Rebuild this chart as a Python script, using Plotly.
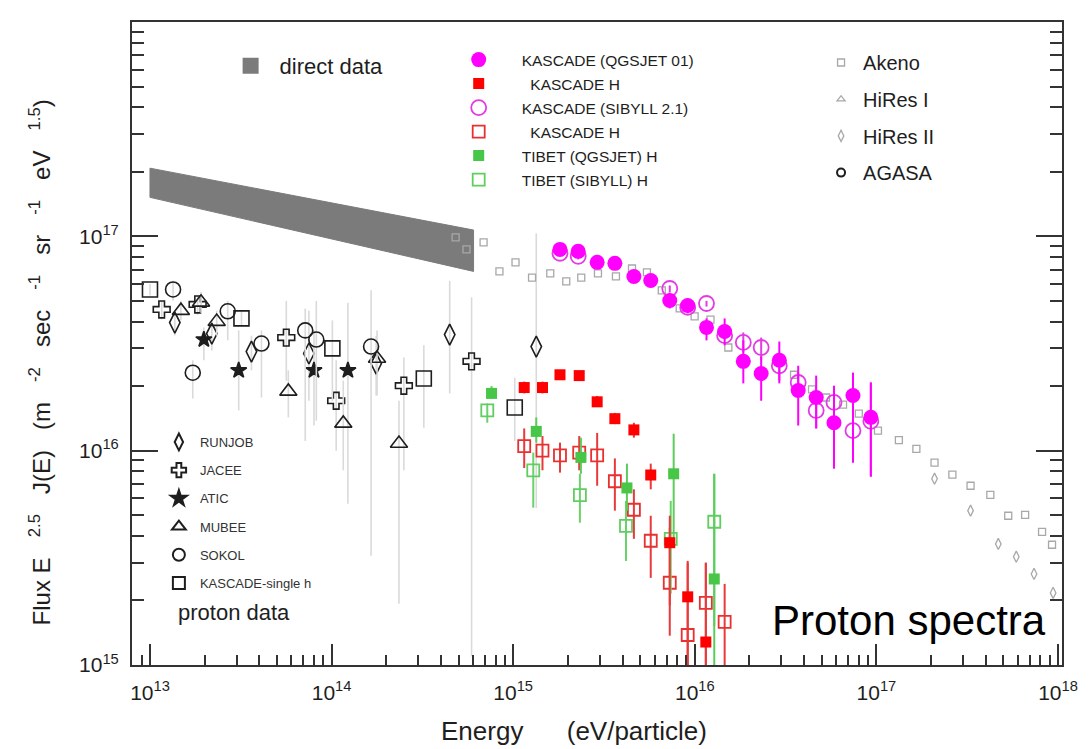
import plotly.graph_objects as go

# ---------------- data ----------------
# direct data band (corners)
band_E = [1.0e13, 6.05e14, 6.05e14, 1.0e13, 1.0e13]
band_F = [2.08e17, 1.07e17, 6.86e16, 1.52e17, 2.08e17]

runjob_E = [1.37e13, 2.19e13, 3.62e13, 7.5e13, 1.76e14, 4.47e14, 1.34e15]
runjob_F = [3.96e16, 3.52e16, 2.90e16, 2.84e16, 2.55e16, 3.48e16, 3.06e16]
runjob_hi = [4.4e16, 4.05e16, 3.44e16, 4.5e16, 3.44e16, 6.2e16, 1.03e17]
runjob_lo = [3.45e16, 2.93e16, 2.37e16, 1.71e16, 1.81e16, 1.85e16, 5.4e15]

jacee_E = [1.16e13, 1.83e13, 5.63e13, 1.06e14, 2.50e14, 5.9e14]
jacee_F = [4.56e16, 4.81e16, 3.37e16, 1.71e16, 2.01e16, 2.61e16]
jacee_hi = [5.0e16, 5.3e16, 5.0e16, 2.64e16, 2.72e16, 5.2e16]
jacee_lo = [4.1e16, 4.3e16, 2.12e16, 1.0e16, 8.1e15, 1.1e15]

atic_E = [1.98e13, 3.08e13, 8.0e13, 1.23e14]
atic_F = [3.30e16, 2.37e16, 2.37e16, 2.37e16]
atic_hi = [3.76e16, 3.64e16, 3.64e16, 4.9e16]
atic_lo = [2.64e16, 1.54e16, 1.31e16, 5.65e15]

mubee_E = [1.48e13, 1.91e13, 2.33e13, 5.78e13, 1.16e14, 1.78e14, 2.35e14]
mubee_F = [4.5e16, 4.92e16, 4.0e16, 1.89e16, 1.34e16, 2.69e16, 1.08e16]
mubee_hi = [5.0e16, 5.5e16, 4.5e16, 2.37e16, 2.12e16, 3.64e16, 1.71e16]
mubee_lo = [4.05e16, 4.4e16, 3.44e16, 1.43e16, 8.1e15, 1.81e16, 1.93e15]

sokol_E = [1.34e13, 1.72e13, 2.68e13, 4.11e13, 7.16e13, 8.24e13, 1.65e14]
sokol_F = [5.65e16, 2.31e16, 4.47e16, 3.16e16, 3.64e16, 3.30e16, 3.06e16]
sokol_hi = [6.2e16, 2.64e16, 5.0e16, 3.64e16, 4.6e16, 5.0e16, 5.6e16]
sokol_lo = [5.0e16, 1.75e16, 3.27e16, 1.77e16, 1.11e16, 1.38e16, 3.23e15]

ksingle_E = [1.0e13, 3.19e13, 1.01e14, 3.22e14, 1.02e15]
ksingle_F = [5.65e16, 4.14e16, 3.0e16, 2.17e16, 1.59e16]
ksingle_hi = [6.0e16, 4.5e16, 4.05e16, 3.1e16, 2.19e16]
ksingle_lo = [5.3e16, 3.8e16, 1.71e16, 1.28e16, 1.11e16]

# KASCADE (QGSJET 01)
kq_E = [1.81e15, 2.28e15, 2.90e15, 3.63e15, 4.62e15, 5.72e15, 7.28e15, 9.14e15, 1.16e16,
        1.46e16, 1.85e16, 2.32e16, 2.92e16, 3.71e16, 4.66e16, 5.84e16, 7.43e16, 9.32e16]
kq_F = [8.69e16, 8.51e16, 7.56e16, 7.48e16, 6.50e16, 6.22e16, 5.02e16, 4.76e16, 3.76e16,
        3.60e16, 2.61e16, 2.29e16, 2.64e16, 1.91e16, 1.77e16, 1.35e16, 1.81e16, 1.43e16]
kq_hi = [8.9e16, 8.7e16, 7.8e16, 7.7e16, 6.7e16, 6.4e16, 5.47e16, 5.13e16, 4.14e16,
         4.14e16, 3.27e16, 2.75e16, 3.23e16, 2.49e16, 2.24e16, 2.01e16, 2.31e16, 2.08e16]
kq_lo = [8.5e16, 8.3e16, 7.3e16, 7.3e16, 6.3e16, 6.0e16, 4.61e16, 4.37e16, 3.27e16,
         3.10e16, 2.06e16, 1.71e16, 2.06e16, 1.31e16, 1.27e16, 8.24e15, 8.8e15, 7.57e15]

# KASCADE (SIBYLL 2.1)
ks_E = [1.81e15, 2.28e15, 7.28e15, 9.14e15, 1.16e16, 1.46e16, 1.85e16, 2.32e16, 2.92e16,
        3.71e16, 4.66e16, 5.84e16, 7.43e16, 9.32e16]
ks_F = [8.34e16, 8.07e16, 5.71e16, 4.66e16, 4.86e16, 3.44e16, 3.20e16, 3.03e16, 2.49e16,
        2.08e16, 1.54e16, 1.68e16, 1.24e16, 1.37e16]
ks_hi = [8.6e16, 8.3e16, 5.9e16, 4.8e16, 5.0e16, 3.6e16, 3.56e16, 3.37e16, 2.87e16,
         2.31e16, 1.75e16, 1.91e16, 2.31e16, 2.08e16]
ks_lo = [8.1e16, 7.8e16, 5.5e16, 4.5e16, 4.7e16, 3.3e16, 2.87e16, 2.64e16, 2.12e16,
         1.81e16, 1.27e16, 1.11e16, 8.8e15, 7.57e15]

# KASCADE H (QGSJET)
khq_E = [1.15e15, 1.45e15, 1.81e15, 2.31e15, 2.90e15, 3.63e15, 4.62e15, 5.72e15, 7.28e15, 9.14e15, 1.15e16]
khq_F = [1.97e16, 1.97e16, 2.26e16, 2.24e16, 1.69e16, 1.41e16, 1.25e16, 7.7e15, 3.72e15, 2.08e15, 1.28e15]
khq_hi = [2.1e16, 2.1e16, 2.35e16, 2.35e16, 1.8e16, 1.5e16, 1.35e16, 8.7e15, 4.97e15, 3.0e15, 3.0e15]
khq_lo = [1.85e16, 1.85e16, 2.15e16, 2.15e16, 1.6e16, 1.33e16, 1.15e16, 6.6e15, 1.9e15, 9.0e14, 9.0e14]

# KASCADE H (SIBYLL)
khs_E = [1.15e15, 1.45e15, 1.81e15, 2.31e15, 2.90e15, 3.63e15, 4.62e15, 5.72e15, 7.28e15, 9.14e15, 1.15e16, 1.46e16]
khs_F = [1.05e16, 1.0e16, 9.5e15, 9.8e15, 9.5e15, 7.2e15, 5.3e15, 3.8e15, 2.42e15, 1.38e15, 1.95e15, 1.59e15]
khs_hi = [1.27e16, 1.17e16, 1.09e16, 1.17e16, 1.21e16, 9.2e15, 6.6e15, 4.97e15, 4.37e15, 3.06e15, 3.0e15, 2.39e15]
khs_lo = [8.3e15, 8.1e15, 7.9e15, 8.1e15, 6.86e15, 5.25e15, 3.88e15, 2.55e15, 1.37e15, 9.0e14, 9.0e14, 9.0e14]

# TIBET (QGSJET) H
tq_E = [7.6e14, 1.34e15, 2.36e15, 4.23e15, 7.65e15, 1.28e16]
tq_F = [1.85e16, 1.23e16, 9.3e15, 6.7e15, 7.8e15, 2.52e15]
tq_hi = [2.0e16, 1.43e16, 1.15e16, 8.7e15, 1.20e16, 7.8e15]
tq_lo = [1.75e16, 1.09e16, 7.8e15, 5.25e15, 3.6e15, 9.0e14]

# TIBET (SIBYLL) H
ts_E = [7.2e14, 1.29e15, 2.33e15, 4.18e15, 7.37e15, 1.28e16]
ts_F = [1.54e16, 8.1e15, 6.2e15, 4.46e15, 3.88e15, 4.66e15]
ts_hi = [1.66e16, 9.8e15, 7.8e15, 5.83e15, 5.83e15, 7.8e15]
ts_lo = [1.35e16, 5.42e15, 4.61e15, 3.06e15, 2.15e15, 1.52e15]

akeno_E = [4.82e14, 5.53e14, 6.87e14, 8.40e14, 1.03e15, 1.27e15, 1.60e15, 1.96e15, 2.37e15,
           2.93e15, 3.68e15, 4.51e15, 5.45e15, 6.58e15, 8.26e15, 9.98e15, 1.22e16, 1.53e16,
           3.52e16, 4.42e16, 5.28e16, 6.55e16, 8.0e16, 1.02e17, 1.33e17, 1.66e17, 2.09e17,
           2.62e17, 3.30e17, 4.24e17, 5.32e17, 6.59e17, 8.17e17, 9.27e17]
akeno_F = [9.89e16, 8.69e16, 9.37e16, 6.86e16, 7.56e16, 6.42e16, 6.71e16, 6.17e16, 6.42e16,
           6.71e16, 6.50e16, 7.08e16, 6.79e16, 5.60e16, 4.61e16, 4.23e16, 4.09e16, 3.03e16,
           2.26e16, 1.93e16, 1.77e16, 1.64e16, 1.49e16, 1.24e16, 1.12e16, 1.02e16, 8.79e15,
           7.73e15, 6.86e15, 6.22e15, 4.97e15, 5.02e15, 4.18e15, 3.64e15]

hires1_E = [None]
hires1_F = [None]

hires2_E = [2.09e17, 3.30e17, 4.69e17, 5.89e17, 7.38e17, 9.40e17]
hires2_F = [7.40e15, 5.25e15, 3.67e15, 3.20e15, 2.66e15, 2.17e15]

agasa_E = [None]
agasa_F = [None]

x_decades = [13, 14, 15, 16, 17, 18]
y_decades = [15, 16, 17, 18]

# ---------------- styling ----------------
FONT = "Liberation Sans, Arial, sans-serif"
BLACK = "#1e1e1e"
ERR_GRAY = "#dadada"
MAG = "#ff00ff"
MAG_O = "#e43ae4"
RED = "#ff0000"
RED_O = "#e83030"
GRN = "#47c647"
GRN_O = "#5fce5f"

# page offset (browser body margin) and figure size
OFF = 8
W, H = 1090 - OFF, 749 - OFF
L, R, T, B = 132 - OFF, W - (1066 - OFF), 22 - OFF, H - (665 - OFF)


def px(x):  # screenshot pixel -> paper
    return (x - OFF - L) / (W - L - R)


def py(y):
    return (H - B - (y - OFF)) / (H - T - B)


def err(hi, y, lo, color, thick=2.0):
    return dict(type="data", symmetric=False,
                array=[h - v for h, v in zip(hi, y)],
                arrayminus=[v - l for v, l in zip(y, lo)],
                color=color, thickness=thick, width=0)


fig = go.Figure()

# direct data band
fig.add_trace(go.Scatter(x=band_E, y=band_F, mode="lines", fill="toself",
                         fillcolor="#7b7b7b", line=dict(color="#7b7b7b", width=1),
                         showlegend=False, hoverinfo="skip"))
fig.add_trace(go.Scatter(x=[None], y=[None], mode="markers", name="direct data",
                         marker=dict(symbol="square", size=18, color="#7b7b7b"),
                         legend="legend4"))


def add_direct(E, F, hi, lo, name, symbol, size, rank):
    mk = dict(symbol=symbol, size=size, color=BLACK, line=dict(color=BLACK, width=1.6))
    fig.add_trace(go.Scatter(x=E, y=F, mode="markers", name=name, marker=mk,
                             error_y=err(hi, F, lo, ERR_GRAY, 1.6),
                             legend="legend3", legendgroup=name, legendrank=rank))


add_direct(runjob_E, runjob_F, runjob_hi, runjob_lo, "RUNJOB", "diamond-tall-open", 15, 1)
add_direct(jacee_E, jacee_F, jacee_hi, jacee_lo, "JACEE", "cross-open", 14, 2)
add_direct(atic_E, atic_F, atic_hi, atic_lo, "ATIC", "star", 12, 3)
add_direct(mubee_E, mubee_F, mubee_hi, mubee_lo, "MUBEE", "triangle-up-open", 15, 4)
add_direct(sokol_E, sokol_F, sokol_hi, sokol_lo, "SOKOL", "circle-open", 15, 5)
add_direct(ksingle_E, ksingle_F, ksingle_hi, ksingle_lo, "KASCADE-single h", "square-open", 15, 6)

# air shower arrays (gray)
GR = "#a8a8a8"
fig.add_trace(go.Scatter(x=akeno_E, y=akeno_F, mode="markers", name="Akeno",
                         marker=dict(symbol="square-open", size=7, color=GR, line=dict(width=1.3)),
                         legend="legend2", legendgroup="Akeno"))
fig.add_trace(go.Scatter(x=hires1_E, y=hires1_F, mode="markers", name="HiRes I",
                         marker=dict(symbol="triangle-up-open", size=7, color=GR, line=dict(width=1.3)),
                         legend="legend2", legendgroup="HiRes I"))
fig.add_trace(go.Scatter(x=hires2_E, y=hires2_F, mode="markers", name="HiRes II",
                         marker=dict(symbol="diamond-tall-open", size=8, color=GR, line=dict(width=1.3)),
                         legend="legend2", legendgroup="HiRes II"))
fig.add_trace(go.Scatter(x=agasa_E, y=agasa_F, mode="markers", name="AGASA",
                         marker=dict(symbol="circle-open", size=8, color=BLACK, line=dict(width=2)),
                         legend="legend2", legendgroup="AGASA"))

# KASCADE / TIBET (drawing order: open symbols below filled ones)
fig.add_trace(go.Scatter(x=ks_E, y=ks_F, mode="markers", name="KASCADE (SIBYLL 2.1)",
                         marker=dict(symbol="circle-open", size=15, color=MAG_O, line=dict(width=1.8)),
                         error_y=err(ks_hi, ks_F, ks_lo, MAG_O),
                         legend="legend", legendgroup="g3", legendrank=3))
fig.add_trace(go.Scatter(x=kq_E, y=kq_F, mode="markers", name="KASCADE (QGSJET 01)",
                         marker=dict(symbol="circle", size=15, color=MAG),
                         error_y=err(kq_hi, kq_F, kq_lo, MAG),
                         legend="legend", legendgroup="g1", legendrank=1))
fig.add_trace(go.Scatter(x=khs_E, y=khs_F, mode="markers", name="\u00a0\u00a0KASCADE H",
                         marker=dict(symbol="square-open", size=12, color=RED_O, line=dict(width=1.8)),
                         error_y=err(khs_hi, khs_F, khs_lo, "#e83a3a"),
                         legend="legend", legendgroup="g4", legendrank=4))
fig.add_trace(go.Scatter(x=ts_E, y=ts_F, mode="markers", name="TIBET (SIBYLL) H",
                         marker=dict(symbol="square-open", size=12, color=GRN_O, line=dict(width=1.8)),
                         error_y=err(ts_hi, ts_F, ts_lo, "#6ad26a"),
                         legend="legend", legendgroup="g6", legendrank=6))
fig.add_trace(go.Scatter(x=tq_E, y=tq_F, mode="markers", name="TIBET (QGSJET) H",
                         marker=dict(symbol="square", size=11, color=GRN),
                         error_y=err(tq_hi, tq_F, tq_lo, "#5ccc5c"),
                         legend="legend", legendgroup="g5", legendrank=5))
fig.add_trace(go.Scatter(x=khq_E, y=khq_F, mode="markers", name="\u00a0\u00a0KASCADE H",
                         marker=dict(symbol="square", size=11, color=RED),
                         error_y=err(khq_hi, khq_F, khq_lo, "#e83a3a"),
                         legend="legend", legendgroup="g2", legendrank=2))


def tick_text(vals):
    return ["10<sup>%d</sup>" % v for v in vals]


def axis(minor_len):
    return dict(type="log", showgrid=False, zeroline=False, showline=True,
                linecolor="#333", linewidth=2, ticks="inside", tickcolor="#333",
                tickwidth=2, tickfont=dict(family=FONT, size=21, color=BLACK),
                minor=dict(ticks="inside", ticklen=minor_len, tickwidth=1.6, dtick="D1",
                           tickcolor="#333", showgrid=False))


s3 = "\u00a0\u00a0\u00a0"
ytitle = ("Flux E" + s3 + "<sup>2.5</sup>" + s3 + "J(E)" + s3 + "(m" + s3 + "<sup>-2</sup>" + s3 +
          "sec" + s3 + "<sup>-1</sup>" + s3 + "sr" + s3 + "<sup>-1</sup>" + s3 + "eV" + s3 +
          "<sup>1.5</sup>" + ")")

fig.update_layout(
    width=W, height=H,
    margin=dict(l=L, r=R, t=T, b=B, pad=0),
    plot_bgcolor="white", paper_bgcolor="white",
    font=dict(family=FONT, color=BLACK),
    xaxis=dict(axis(10), range=[12.901, 18.022], mirror=True, ticklen=21,
               ticklabelstandoff=8,
               tickvals=[10 ** v for v in x_decades], ticktext=tick_text(x_decades)),
    yaxis=dict(axis(12), range=[15, 18], mirror="ticks", ticklen=26,
               ticklabelstandoff=7,
               tickvals=[10 ** v for v in y_decades], ticktext=tick_text(y_decades)),
    legend=dict(x=px(437), y=py(43), xanchor="left", yanchor="top",
                font=dict(family=FONT, size=15.5, color=BLACK), itemwidth=76,
                traceorder="grouped", tracegroupgap=0.85, bgcolor="rgba(0,0,0,0)"),
    legend2=dict(x=px(822), y=py(43), xanchor="left", yanchor="top",
                 font=dict(family=FONT, size=20, color=BLACK), itemwidth=34,
                 traceorder="grouped", tracegroupgap=7.7, bgcolor="rgba(0,0,0,0)"),
    legend3=dict(x=px(158), y=py(427), xanchor="left", yanchor="top",
                 font=dict(family=FONT, size=13, color="#333"), itemwidth=32,
                 itemsizing="constant",
                 traceorder="grouped", tracegroupgap=8.3, bgcolor="rgba(0,0,0,0)"),
    legend4=dict(x=px(222), y=py(45), xanchor="left", yanchor="top",
                 font=dict(family=FONT, size=22, color=BLACK), itemwidth=48,
                 bgcolor="rgba(0,0,0,0)"),
    annotations=[
        dict(text=ytitle, xref="paper", yref="paper", x=px(40), y=py(362),
             xanchor="center", yanchor="middle", textangle=-90, showarrow=False,
             font=dict(family=FONT, size=24, color=BLACK)),
        dict(text="Energy" + "\u00a0" * 6 + "(eV/particle)",
             xref="paper", yref="paper", x=px(576), y=py(731), xanchor="center", yanchor="middle",
             showarrow=False, font=dict(family=FONT, size=26, color=BLACK)),
        dict(text="proton data", xref="paper", yref="paper", x=px(176), y=py(612),
             xanchor="left", yanchor="middle", showarrow=False,
             font=dict(family=FONT, size=22, color=BLACK)),
        dict(text="Proton spectra", xref="paper", yref="paper", x=px(1052), y=py(620),
             xanchor="right", yanchor="middle", showarrow=False,
             font=dict(family=FONT, size=42, color="black")),
    ],
)

fig.write_html("out.html")
